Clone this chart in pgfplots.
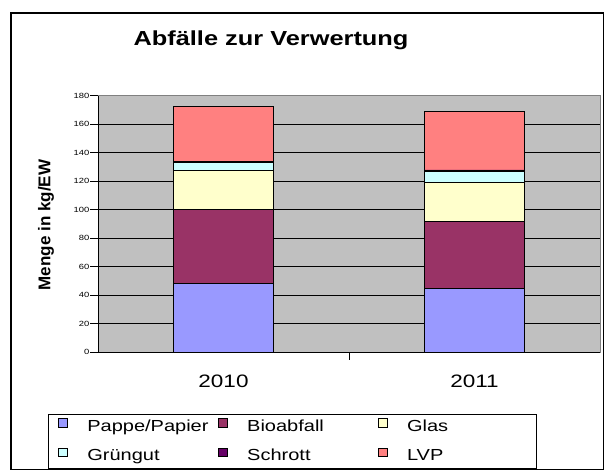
\documentclass[border=0pt]{standalone}
\usepackage{fontspec}
\setmainfont{Liberation Sans}[FakeStretch=1.25]
\newfontfamily\plainsans{Liberation Sans}
\usepackage{pgfplots}
\pgfplotsset{compat=1.18}
\definecolor{cPappe}{HTML}{9999FF}
\definecolor{cBio}{HTML}{993366}
\definecolor{cGlas}{HTML}{FFFFCC}
\definecolor{cGruen}{HTML}{CCFFFF}
\definecolor{cSchrott}{HTML}{660066}
\definecolor{cLVP}{HTML}{FF8080}
\definecolor{cBack}{HTML}{C0C0C0}
\begin{document}
\begin{tikzpicture}[x=1pt,y=1pt]
\useasboundingbox (0,0) rectangle (604,470);
\fill[white] (0,0) rectangle (604,470);
\draw[black, line width=1.3pt] (11,457) rectangle (603.3,0.7);
\node[font=\fontsize{20.3}{23}\selectfont\bfseries, anchor=base] at (271,424.3) {Abfälle zur Verwertung};
\node[font=\plainsans\fontsize{17}{20}\selectfont\bfseries, rotate=90] at (46,245) {Menge in kg/EW};
\begin{axis}[
  at={(98pt,117.7pt)}, anchor=south west,
  scale only axis, width=502pt, height=256.6pt,
  ybar stacked, bar width=0.4,
  xmin=-0.5, xmax=1.5, ymin=0, ymax=180,
  ytick={0,20,...,180},
  xtick={0.5}, xticklabels={},
  tick pos=left,
  extra x ticks={0,1}, extra x tick labels={2010,2011},
  extra x tick style={major tick length=0pt, xticklabel style={yshift=-19pt, font=\fontsize{18}{20}\selectfont}},
  ymajorgrids, major grid style={black, line width=0.8pt},
  axis background/.style={fill=cBack},
  axis line style={draw=gray, line width=0.8pt},
  tick align=outside, major tick length=7.5pt,
  tick style={black, line width=0.8pt},
  /pgf/number format/assume math mode=true,
  yticklabel style={font=\fontsize{7.5}{9}\selectfont, inner xsep=1pt},
  every axis plot/.append style={draw=black, line width=0.9pt},
  every axis plot post/.append style={legend image code/.code={\draw[##1, line width=0.9pt] (0pt,0pt) rectangle (8.5pt,8.5pt);}},
  legend columns=3,
  legend style={at={(-0.0996,-0.2405)}, anchor=north west, draw=black, line width=0.8pt,
    font=\fontsize{16}{18}\selectfont, inner xsep=10pt, inner ysep=4pt,
    nodes={text width=131pt, inner xsep=0pt, inner ysep=1pt, text height=11.5pt, text depth=3pt, align=left},
    /tikz/every odd column/.append style={column sep=19.5pt},
    /tikz/column 6/.style={nodes={text width=119pt}},
    row sep=12pt},
]
\addplot[fill=cPappe] coordinates {(0,48.4) (1,44.9)};
\addplot[fill=cBio] coordinates {(0,51.9) (1,46.7)};
\addplot[fill=cGlas] coordinates {(0,27.4) (1,27.2)};
\addplot[fill=cGruen] coordinates {(0,5.5) (1,8.1)};
\addplot[fill=cSchrott] coordinates {(0,0.8) (1,1.0)};
\addplot[fill=cLVP] coordinates {(0,38.3) (1,40.9)};
\legend{Pappe/Papier,Bioabfall,Glas,Grüngut,Schrott,LVP}
\draw[black, line width=0.9pt] (rel axis cs:0,0) -- (rel axis cs:0,1);
\draw[black, line width=0.9pt] (rel axis cs:0,0) -- (rel axis cs:1,0);
\end{axis}
\end{tikzpicture}
\end{document}
